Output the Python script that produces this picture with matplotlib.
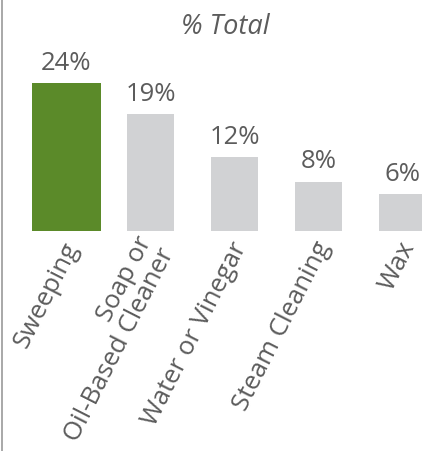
import matplotlib.pyplot as plt
from matplotlib.lines import Line2D

# data
categories = ['Sweeping', 'Soap or\nOil-Based Cleaner', 'Water or Vinegar',
              'Steam Cleaning', 'Wax']
values = [24, 19, 12, 8, 6]

plt.rcParams['font.family'] = ['Open Sans', 'DejaVu Sans']
text_col = '#5c5c5c'
green = '#5b8a29'
grey = '#d1d2d4'

fig = plt.figure(figsize=(4.22, 4.51), dpi=100)
# bar centres are 84 px apart, first centre at 66.5 px
ax = fig.add_axes([0, 220 / 451, 1, 191 / 451])
ax.set_xlim(-66.5 / 84, (422 - 66.5) / 84)
ax.set_ylim(0, 191 / 6.17)

x = range(len(values))
widths = [69 / 84] + [47 / 84] * (len(values) - 1)
colors = [green] + [grey] * (len(values) - 1)
ax.bar(x, values, width=widths, color=colors)

for i, v in zip(x, values):
    ax.annotate(f'{v}%', xy=(i, v), xytext=(0, 9.5), textcoords='offset points',
                ha='center', va='baseline', fontsize=18.5, color=text_col)
    ax.annotate(categories[i], xy=(i, 0), xytext=(4.5, -9), textcoords='offset points',
                ha='right', va='center', rotation=63, rotation_mode='anchor',
                fontsize=18.5, color=text_col, linespacing=1.0)

ax.axis('off')

fig.text(225 / 422, 1 - 34 / 451, '% Total', ha='center', va='baseline',
         fontsize=19.5, style='italic', color=text_col)

# thin frame line on the left edge
fig.add_artist(Line2D([1.5 / 422, 1.5 / 422], [0, 1], color='#9a9a9a', lw=1.2))

plt.savefig('out.png', dpi=100)
